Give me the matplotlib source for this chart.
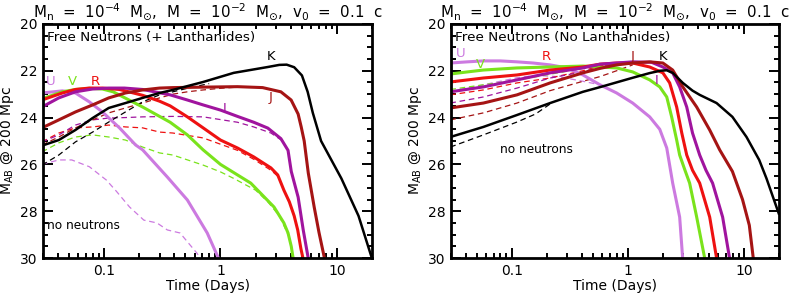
import matplotlib
matplotlib.use("Agg")
import matplotlib.pyplot as plt
from matplotlib.ticker import MultipleLocator, LogLocator, NullFormatter, FixedLocator, FixedFormatter

plt.rcParams["font.family"] = ["DejaVu Sans"]
plt.rcParams["mathtext.fontset"] = "dejavusans"

# band colours
BANDS = ["U", "V", "R", "I", "J", "K"]
COLORS = {"U": "#cc7ae0", "V": "#7ae31c", "R": "#ee1111",
          "I": "#a0149e", "J": "#a51414", "K": "black"}

# ---- left panel: free neutrons (+ lanthanides), solid ----
l_U_t = [0.0294, 0.044, 0.057, 0.075, 0.097, 0.136, 0.187, 0.215, 0.35, 0.52, 0.77, 0.96]
l_U_m = [22.95, 22.86, 22.95, 23.33, 23.76, 24.44, 25.17, 25.38, 26.54, 27.52, 28.93, 30.0]
l_V_t = [0.0294, 0.044, 0.057, 0.075, 0.097, 0.12, 0.215, 0.37, 0.52, 0.71, 1.0, 1.82, 2.88, 3.5, 3.8, 4.05, 4.2]
l_V_m = [23.2, 22.9, 22.8, 22.75, 22.78, 22.9, 23.55, 24.2, 24.74, 25.38, 26.0, 26.8, 27.82, 28.5, 28.93, 29.5, 30.0]
l_R_t = [0.0294, 0.044, 0.057, 0.075, 0.097, 0.136, 0.215, 0.30, 0.37, 0.52, 0.71, 1.0, 1.4, 1.93, 2.71, 3.1, 3.5, 3.9, 4.29, 4.6, 4.9, 5.1]
l_R_m = [23.25, 22.95, 22.8, 22.74, 22.74, 22.8, 23.05, 23.3, 23.5, 23.97, 24.44, 24.96, 25.3, 25.68, 26.15, 26.45, 27.1, 27.6, 28.2, 28.8, 29.6, 30.0]
l_I_t = [0.0294, 0.041, 0.057, 0.08, 0.11, 0.15, 0.215, 0.37, 0.52, 0.71, 1.0, 1.4, 1.93, 2.55, 3.3, 3.8, 4.05, 4.64, 5.13, 5.66]
l_I_m = [23.55, 23.16, 22.9, 22.78, 22.74, 22.74, 22.8, 23.03, 23.25, 23.46, 23.68, 23.95, 24.2, 24.45, 24.9, 25.4, 26.3, 27.4, 28.8, 30.0]
l_J_t = [0.0294, 0.041, 0.057, 0.08, 0.11, 0.153, 0.215, 0.30, 0.39, 0.71, 1.4, 2.3, 3.3, 4.04, 4.64, 4.93, 5.23, 5.67, 6.37, 7.0, 7.8]
l_J_m = [24.44, 24.1, 23.76, 23.46, 23.16, 22.95, 22.82, 22.74, 22.72, 22.7, 22.68, 22.72, 22.9, 23.25, 23.85, 24.4, 25.0, 26.37, 27.82, 28.9, 30.0]
l_K_t = [0.0294, 0.041, 0.057, 0.08, 0.11, 0.153, 0.215, 0.30, 0.39, 0.71, 1.3, 2.55, 3.2, 3.7, 4.29, 5.0, 5.6, 6.2, 7.3, 10.9, 15.3, 19.9]
l_K_m = [25.2, 24.96, 24.53, 24.02, 23.59, 23.38, 23.16, 22.95, 22.82, 22.48, 22.09, 21.84, 21.75, 21.74, 21.85, 22.2, 22.9, 23.8, 25.0, 26.6, 28.2, 30.0]

# ---- left panel: no neutrons, dashed ----
l_U_t_nn = [0.0294, 0.041, 0.053, 0.075, 0.105, 0.128, 0.166, 0.22, 0.285, 0.35, 0.45, 0.63, 0.67]
l_U_m_nn = [26.0, 25.81, 25.81, 26.1, 26.67, 27.15, 27.82, 28.38, 28.5, 28.8, 28.93, 29.8, 30.0]
l_V_t_nn = [0.0294, 0.041, 0.057, 0.08, 0.11, 0.153, 0.215, 0.30, 0.39, 0.71, 1.0, 1.3, 2.0, 2.55, 3.2, 3.8]
l_V_m_nn = [25.47, 25.08, 24.83, 24.74, 24.83, 24.96, 25.26, 25.51, 25.6, 26.03, 26.32, 26.6, 27.1, 27.6, 28.2, 29.0]
l_R_t_nn = [0.0294, 0.041, 0.057, 0.08, 0.11, 0.153, 0.215, 0.30, 0.39, 0.71, 1.4, 1.93, 2.71, 3.1]
l_R_m_nn = [25.04, 24.66, 24.44, 24.4, 24.32, 24.4, 24.44, 24.62, 24.66, 24.87, 25.4, 25.78, 26.25, 26.5]
l_I_t_nn = [0.0294, 0.041, 0.057, 0.08, 0.11, 0.153, 0.215, 0.39, 0.71, 1.4, 1.93, 2.71, 3.3]
l_I_m_nn = [25.04, 24.74, 24.32, 24.1, 24.02, 24.0, 23.97, 23.95, 23.97, 24.2, 24.4, 24.66, 24.95]
l_J_t_nn = [0.0294, 0.041, 0.057, 0.08, 0.11, 0.153, 0.215, 0.30, 0.39, 0.52, 0.71, 1.0, 1.4]
l_J_m_nn = [25.17, 24.83, 24.44, 24.1, 23.8, 23.59, 23.38, 23.16, 23.0, 22.9, 22.82, 22.75, 22.7]
l_K_t_nn = [0.0294, 0.041, 0.057, 0.08, 0.11, 0.153, 0.215, 0.30, 0.39, 0.55, 0.8]
l_K_m_nn = [26.03, 25.6, 25.04, 24.62, 24.19, 23.76, 23.33, 23.03, 22.9, 22.72, 22.55]

# ---- right panel: free neutrons (no lanthanides), solid ----
r_U_t = [0.0296, 0.0415, 0.057, 0.08, 0.111, 0.153, 0.214, 0.30, 0.41, 0.575, 0.80, 1.10, 1.54, 1.88, 2.16, 2.43, 2.79, 2.96]
r_U_m = [21.67, 21.62, 21.58, 21.58, 21.62, 21.67, 21.75, 21.88, 22.18, 22.6, 22.95, 23.38, 23.97, 24.5, 25.3, 26.8, 28.25, 30.0]
r_V_t = [0.0296, 0.0415, 0.057, 0.111, 0.214, 0.41, 0.575, 0.80, 1.10, 1.54, 1.88, 2.16, 2.38, 2.63, 2.79, 3.1, 3.4, 3.91, 4.58]
r_V_m = [22.14, 22.05, 21.97, 21.88, 21.84, 21.8, 21.84, 21.88, 22.05, 22.39, 22.69, 23.12, 23.97, 24.96, 25.6, 26.25, 26.8, 28.25, 30.0]
r_R_t = [0.0296, 0.057, 0.111, 0.214, 0.41, 0.575, 0.80, 1.10, 1.54, 2.0, 2.29, 2.63, 2.91, 3.21, 3.6, 4.15, 5.06, 5.8]
r_R_m = [22.48, 22.31, 22.18, 21.97, 21.84, 21.72, 21.67, 21.67, 21.84, 22.09, 22.52, 23.55, 24.66, 25.6, 26.25, 26.8, 28.25, 30.0]
r_I_t = [0.0296, 0.057, 0.111, 0.214, 0.41, 0.575, 1.10, 1.6, 2.0, 2.43, 2.79, 3.21, 3.6, 4.15, 4.7, 5.36, 6.54, 7.5]
r_I_m = [22.9, 22.69, 22.39, 22.09, 21.88, 21.72, 21.62, 21.64, 21.84, 22.09, 22.69, 23.55, 24.66, 25.6, 26.25, 26.8, 28.25, 30.0]
r_J_t = [0.0296, 0.057, 0.111, 0.214, 0.41, 0.575, 0.80, 1.10, 1.54, 2.0, 2.43, 2.97, 3.91, 5.06, 6.17, 7.94, 9.7, 11.1, 12.0]
r_J_m = [23.59, 23.38, 23.03, 22.52, 22.09, 21.9, 21.75, 21.67, 21.62, 21.67, 21.97, 22.69, 23.55, 24.53, 25.38, 26.3, 27.5, 28.6, 30.0]
r_K_t = [0.0296, 0.057, 0.111, 0.214, 0.41, 0.575, 1.10, 1.54, 1.9, 2.16, 2.43, 2.97, 3.6, 4.15, 5.8, 7.94, 10.5, 13.5, 15.6, 19.9]
r_K_m = [24.83, 24.4, 23.89, 23.38, 22.9, 22.7, 22.3, 22.1, 22.0, 21.98, 22.09, 22.52, 22.85, 23.03, 23.38, 23.97, 24.83, 25.81, 26.6, 28.1]

# ---- right panel: no neutrons, dashed ----
r_U_t_nn = [0.0296, 0.057, 0.111, 0.16, 0.25, 0.41, 0.55]
r_U_m_nn = [22.9, 22.6, 22.3, 22.2, 22.25, 22.45, 22.58]
r_V_t_nn = [0.0296, 0.057, 0.111, 0.214, 0.41, 0.575]
r_V_m_nn = [22.8, 22.6, 22.4, 22.15, 21.9, 21.84]
r_R_t_nn = [0.0296, 0.057, 0.111, 0.214, 0.41, 0.575, 0.8]
r_R_m_nn = [23.03, 22.82, 22.52, 22.31, 22.0, 21.8, 21.7]
r_I_t_nn = [0.0296, 0.057, 0.111, 0.214, 0.41, 0.6, 0.9]
r_I_m_nn = [23.38, 23.12, 22.74, 22.31, 22.05, 21.8, 21.66]
r_J_t_nn = [0.0296, 0.057, 0.111, 0.214, 0.41, 0.575, 0.8, 1.1]
r_J_m_nn = [24.1, 23.8, 23.38, 22.85, 22.45, 22.25, 22.0, 21.75]
r_K_t_nn = [0.0296, 0.057, 0.111, 0.16, 0.22]
r_K_m_nn = [25.26, 24.74, 24.19, 23.85, 23.38]

left_solid = {"U": (l_U_t, l_U_m), "V": (l_V_t, l_V_m), "R": (l_R_t, l_R_m),
              "I": (l_I_t, l_I_m), "J": (l_J_t, l_J_m), "K": (l_K_t, l_K_m)}
left_dash = {"U": (l_U_t_nn, l_U_m_nn), "V": (l_V_t_nn, l_V_m_nn), "R": (l_R_t_nn, l_R_m_nn),
             "I": (l_I_t_nn, l_I_m_nn), "J": (l_J_t_nn, l_J_m_nn), "K": (l_K_t_nn, l_K_m_nn)}
right_solid = {"U": (r_U_t, r_U_m), "V": (r_V_t, r_V_m), "R": (r_R_t, r_R_m),
               "I": (r_I_t, r_I_m), "J": (r_J_t, r_J_m), "K": (r_K_t, r_K_m)}
right_dash = {"U": (r_U_t_nn, r_U_m_nn), "V": (r_V_t_nn, r_V_m_nn), "R": (r_R_t_nn, r_R_m_nn),
              "I": (r_I_t_nn, r_I_m_nn), "J": (r_J_t_nn, r_J_m_nn), "K": (r_K_t_nn, r_K_m_nn)}

# band label positions (time, mag)
left_labels = {"U": (0.035, 22.45), "V": (0.054, 22.45), "R": (0.084, 22.45),
               "I": (1.08, 23.6), "J": (2.7, 23.15), "K": (2.7, 21.4)}
right_labels = {"U": (0.036, 21.25), "V": (0.054, 21.75), "R": (0.20, 21.4),
                "I": (1.77, 22.4), "J": (1.10, 21.4), "K": (2.0, 21.4)}

TITLE = r"M$_{\rm n}$  =  10$^{-4}$  M$_{\odot}$,  M  =  10$^{-2}$  M$_{\odot}$,  v$_0$  =  0.1  c"

fig = plt.figure(figsize=(7.9, 2.99), dpi=100)
ax_l = fig.add_axes([0.0544, 0.137, 0.4166, 0.783])
ax_r = fig.add_axes([0.5709, 0.137, 0.4152, 0.783])


def draw_panel(ax, solid, dashed, labels, tag, nn_pos):
    for b in BANDS:
        t, m = dashed[b]
        ax.plot(t, m, color=COLORS[b], lw=0.9, ls=(0, (4.5, 3)))
    for b in BANDS:
        t, m = solid[b]
        ax.plot(t, m, color=COLORS[b], lw=1.8 if b == "K" else 2.2,
                solid_joinstyle="round")
    for b in BANDS:
        x, y = labels[b]
        ax.text(x, y, b, color=COLORS[b], fontsize=9.5, ha="center", va="center")

    ax.set_xscale("log")
    ax.set_xlim(0.03, 20)
    ax.set_ylim(30, 20)
    ax.xaxis.set_major_locator(FixedLocator([0.1, 1, 10]))
    ax.xaxis.set_major_formatter(FixedFormatter(["0.1", "1", "10"]))
    ax.xaxis.set_minor_locator(LogLocator(base=10, subs=range(2, 10)))
    ax.xaxis.set_minor_formatter(NullFormatter())
    ax.yaxis.set_major_locator(MultipleLocator(2))
    ax.yaxis.set_minor_locator(MultipleLocator(0.5))
    ax.tick_params(which="both", direction="in", top=True, right=True,
                   width=1.4, labelsize=10, pad=4)
    ax.tick_params(which="major", length=7)
    ax.tick_params(which="minor", length=3.5)
    for s in ax.spines.values():
        s.set_linewidth(2.0)

    ax.text(0.0325, 20.6, tag, fontsize=9.7, ha="left", va="center")
    ax.text(nn_pos[0], nn_pos[1], "no neutrons", fontsize=8.7, ha="left", va="center")
    ax.set_xlabel("Time (Days)", fontsize=10, labelpad=1)
    ax.set_ylabel(r"M$_{\rm AB}$ @ 200 Mpc", fontsize=10, labelpad=3)


draw_panel(ax_l, left_solid, left_dash, left_labels,
           "Free Neutrons (+ Lanthanides)", (0.0325, 28.63))
draw_panel(ax_r, right_solid, right_dash, right_labels,
           "Free Neutrons (No Lanthanides)", (0.08, 25.38))

# titles placed over each panel centre, near the top edge
for ax in (ax_l, ax_r):
    bb = ax.get_position()
    fig.text((bb.x0 + bb.x1) / 2, 1 - 12 / 299, TITLE, fontsize=10.8,
             ha="center", va="center")

fig.savefig("out.png", dpi=100)
